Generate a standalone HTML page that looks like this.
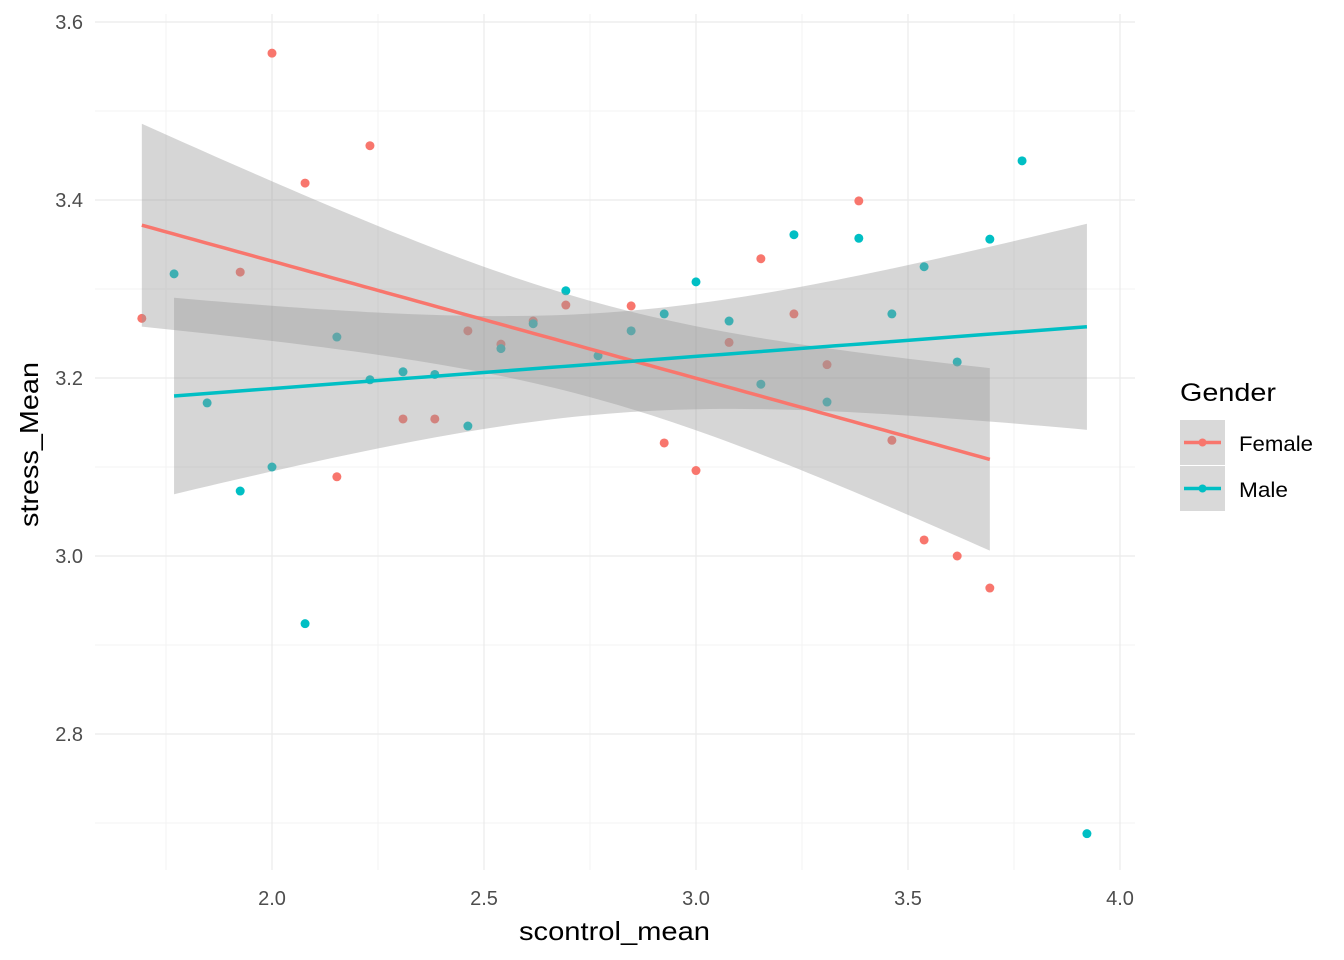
<!DOCTYPE html>
<html><head><meta charset="utf-8"><style>
body{margin:0;background:#fff}
svg{display:block;font-family:"Liberation Sans",sans-serif}
</style></head><body>
<svg id="chart" width="1344" height="960"></svg>
<script>
const femaleX=[1.693,1.925,2.0,2.078,2.153,2.231,2.309,2.384,2.462,2.54,2.616,2.693,2.847,2.925,3.0,3.078,3.153,3.231,3.309,3.384,3.462,3.538,3.616,3.693];
const femaleY=[3.267,3.319,3.565,3.419,3.089,3.461,3.154,3.154,3.253,3.238,3.264,3.282,3.281,3.127,3.096,3.24,3.334,3.272,3.215,3.399,3.13,3.018,3.0,2.964];
const maleX=[1.769,1.847,1.925,2.0,2.078,2.153,2.231,2.309,2.384,2.462,2.54,2.616,2.693,2.769,2.847,2.925,3.0,3.078,3.153,3.231,3.309,3.384,3.462,3.538,3.616,3.693,3.769,3.922];
const maleY=[3.317,3.172,3.073,3.1,2.924,3.246,3.198,3.207,3.204,3.146,3.233,3.261,3.298,3.225,3.253,3.272,3.308,3.264,3.193,3.361,3.173,3.357,3.272,3.325,3.218,3.356,3.444,2.688];
const xTicks=[2.0,2.5,3.0,3.5,4.0];
const yTicks=[2.8,3.0,3.2,3.4,3.6];
const xMinor=[1.75,2.25,2.75,3.25,3.75];
const yMinor=[2.7,2.9,3.1,3.3,3.5];

const NS="http://www.w3.org/2000/svg";
const svg=document.getElementById('chart');
const X=v=>272+(v-2)*424, Y=v=>378-(v-3.2)*890;
const L=95,R=1135,T=14,B=870;
function el(tag,attrs,parent){const e=document.createElementNS(NS,tag);for(const k in attrs)e.setAttribute(k,attrs[k]);(parent||svg).appendChild(e);return e;}
const grid=el('g',{});


xMinor.forEach(v=>el('line',{x1:X(v),x2:X(v),y1:T,y2:B,stroke:'#f3f3f3','stroke-width':1},grid));
yMinor.forEach(v=>el('line',{x1:L,x2:R,y1:Y(v),y2:Y(v),stroke:'#f3f3f3','stroke-width':1},grid));
xTicks.forEach(v=>el('line',{x1:X(v),x2:X(v),y1:T,y2:B,stroke:'#ebebeb','stroke-width':1.2},grid));
yTicks.forEach(v=>el('line',{x1:L,x2:R,y1:Y(v),y2:Y(v),stroke:'#ebebeb','stroke-width':1.2},grid));
xTicks.forEach(v=>{const t=el('text',{x:X(v),y:905,'text-anchor':'middle','font-size':20,fill:'#4d4d4d'});t.textContent=v.toFixed(1);
});
yTicks.forEach(v=>{const t=el('text',{x:83,y:Y(v)+7,'text-anchor':'end','font-size':20,fill:'#4d4d4d'});t.textContent=v.toFixed(1);
});
const xt=el('text',{x:519,y:940,'font-size':26,fill:'#000',textLength:191,lengthAdjust:'spacingAndGlyphs'});xt.textContent='scontrol_mean';

const yt=el('text',{x:38,y:527,'font-size':26,fill:'#000',textLength:165,lengthAdjust:'spacingAndGlyphs',transform:'rotate(-90 38 527)'});yt.textContent='stress_Mean';


function points(xs,ys,col,name){xs.forEach((x,i)=>{const c=el('circle',{cx:X(x),cy:Y(ys[i]),r:4.5,fill:col});
});}
points(femaleX,femaleY,'#F8766D','female-point');
points(maleX,maleY,'#00BFC4','male-point');

function fit(xs,ys,tq,name){const n=xs.length,mx=xs.reduce((a,b)=>a+b)/n,my=ys.reduce((a,b)=>a+b)/n;
let sxx=0,sxy=0;xs.forEach((x,i)=>{sxx+=(x-mx)**2;sxy+=(x-mx)*(ys[i]-my);});
const b=sxy/sxx,a=my-b*mx;let sse=0;xs.forEach((x,i)=>sse+=(ys[i]-a-b*x)**2);const s=Math.sqrt(sse/(n-2));
const x0=Math.min(...xs),x1=Math.max(...xs);const up=[],lo=[],ln=[];
for(let k=0;k<=80;k++){const x=x0+(x1-x0)*k/80,yh=a+b*x,se=s*Math.sqrt(1/n+(x-mx)**2/sxx);
up.push(X(x)+','+Y(yh+tq*se));lo.unshift(X(x)+','+Y(yh-tq*se));ln.push(X(x)+','+Y(yh));}
const p=el('polygon',{points:up.concat(lo).join(' '),fill:'#999999','fill-opacity':0.4});

return ln;}
const lf=fit(femaleX,femaleY,2.074,'female');
const lm=fit(maleX,maleY,2.056,'male');
const l1=el('polyline',{points:lf.join(' '),fill:'none',stroke:'#F8766D','stroke-width':3.5});

const l2=el('polyline',{points:lm.join(' '),fill:'none',stroke:'#00BFC4','stroke-width':3.5});


const lg=el('g',{});

const lt=el('text',{x:1180,y:401,'font-size':25,fill:'#000',textLength:96,lengthAdjust:'spacingAndGlyphs'},lg);lt.textContent='Gender';
[['Female','#F8766D',420,74],['Male','#00BFC4',466,49]].forEach(([n,c,y,w])=>{
const g=el('g',{},lg);


el('rect',{x:1180,y:y,width:45,height:45,fill:'#d9d9d9'},g);
el('line',{x1:1184,x2:1221,y1:y+22.5,y2:y+22.5,stroke:c,'stroke-width':3.5},g);
el('circle',{cx:1202.5,cy:y+22.5,r:4,fill:c},g);
const t=el('text',{x:1239,y:y+31,'font-size':21,fill:'#000',textLength:w,lengthAdjust:'spacingAndGlyphs'},g);t.textContent=n;});
</script>
</body></html>
